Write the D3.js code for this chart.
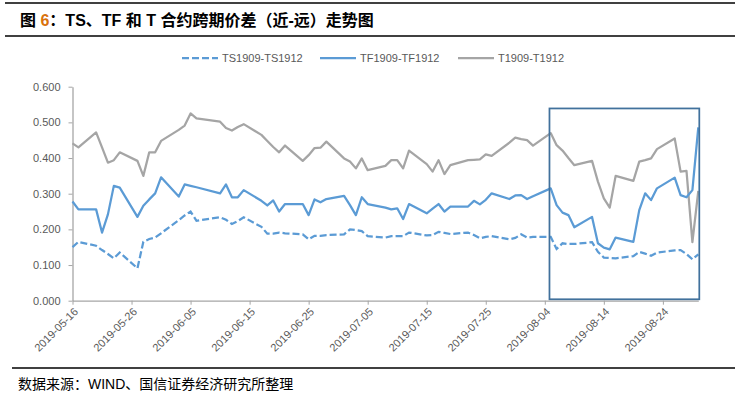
<!DOCTYPE html>
<html>
<head>
<meta charset="utf-8">
<script src="https://cdn.jsdelivr.net/npm/d3@7"></script>
<style>
  body { margin: 0; background: #fff; }
  svg { display: block; }
</style>
</head>
<body>
<div id="chart"></div>
<script>
// 交易日
const dates = [
  "2019-05-16","2019-05-17","2019-05-20","2019-05-21","2019-05-22","2019-05-23","2019-05-24",
  "2019-05-27","2019-05-28","2019-05-29","2019-05-30","2019-05-31",
  "2019-06-03","2019-06-04","2019-06-05","2019-06-06","2019-06-10","2019-06-11","2019-06-12",
  "2019-06-13","2019-06-14","2019-06-17","2019-06-18","2019-06-19","2019-06-20","2019-06-21",
  "2019-06-24","2019-06-25","2019-06-26","2019-06-27","2019-06-28",
  "2019-07-01","2019-07-02","2019-07-03","2019-07-04","2019-07-05","2019-07-08","2019-07-09",
  "2019-07-10","2019-07-11","2019-07-12","2019-07-15","2019-07-16","2019-07-17","2019-07-18",
  "2019-07-19","2019-07-22","2019-07-23","2019-07-24","2019-07-25","2019-07-26","2019-07-29",
  "2019-07-30","2019-07-31",
  "2019-08-01","2019-08-02","2019-08-05","2019-08-06","2019-08-07","2019-08-08","2019-08-09",
  "2019-08-12","2019-08-13","2019-08-14","2019-08-15","2019-08-16","2019-08-19","2019-08-20",
  "2019-08-21","2019-08-22","2019-08-23","2019-08-26","2019-08-27","2019-08-28","2019-08-29",
  "2019-08-30"
];

const tsSpread = [
  0.150, 0.165, 0.154, 0.142, 0.131, 0.119, 0.135, 0.091, 0.165, 0.173, 0.177, 0.189,
  0.226, 0.239, 0.250, 0.224, 0.234, 0.227, 0.215, 0.223, 0.234, 0.207, 0.188, 0.188, 0.191, 0.189,
  0.186, 0.172, 0.182, 0.182, 0.184,
  0.186, 0.200, 0.198, 0.195, 0.181, 0.177, 0.181, 0.181, 0.181, 0.191, 0.183, 0.184, 0.193, 0.190,
  0.187, 0.191, 0.184, 0.175, 0.179, 0.181, 0.172, 0.176, 0.186,
  0.177, 0.179, 0.179, 0.145, 0.161, 0.159, 0.159, 0.164, 0.137, 0.121, 0.120, 0.119, 0.125, 0.137,
  0.132, 0.126, 0.135, 0.141, 0.142, 0.131, 0.116, 0.130
];

const tfSpread = [
  0.278, 0.256, 0.256, 0.191, 0.242, 0.322, 0.317, 0.235, 0.266, 0.284, 0.301, 0.346,
  0.292, 0.326, 0.322, 0.318, 0.301, 0.326, 0.290, 0.290, 0.310, 0.280, 0.267, 0.281, 0.250, 0.271,
  0.271, 0.240, 0.284, 0.276, 0.285,
  0.294, 0.268, 0.240, 0.290, 0.271, 0.261, 0.256, 0.259, 0.229, 0.271, 0.245, 0.258, 0.271, 0.250,
  0.264, 0.264, 0.280, 0.270, 0.283, 0.301, 0.285, 0.295, 0.296,
  0.285, 0.293, 0.315, 0.268, 0.247, 0.240, 0.206, 0.235, 0.161, 0.149, 0.144, 0.177, 0.165, 0.254,
  0.301, 0.282, 0.315, 0.345, 0.296, 0.290, 0.310, 0.486
];

const tSpread = [
  0.441, 0.430, 0.472, 0.430, 0.387, 0.394, 0.416, 0.392, 0.350, 0.416, 0.416, 0.448,
  0.479, 0.491, 0.525, 0.511, 0.502, 0.484, 0.477, 0.487, 0.495, 0.465, 0.448, 0.431, 0.416, 0.435,
  0.392, 0.408, 0.428, 0.429, 0.446,
  0.399, 0.390, 0.371, 0.399, 0.366, 0.378, 0.394, 0.394, 0.371, 0.421, 0.383, 0.362, 0.394, 0.355,
  0.380, 0.394, 0.395, 0.396, 0.410, 0.406, 0.443, 0.457, 0.453,
  0.450, 0.435, 0.470, 0.436, 0.421, 0.400, 0.380, 0.392, 0.334, 0.287, 0.261, 0.350, 0.336, 0.390,
  0.394, 0.399, 0.425, 0.455, 0.362, 0.364, 0.164, 0.308
];

const seriesNames = ["TS1909-TS1912", "TF1909-TF1912", "T1909-T1912"];
const yTicks = [0, 0.1, 0.2, 0.3, 0.4, 0.5, 0.6];
const xTickDates = ["2019-05-16","2019-05-26","2019-06-05","2019-06-15","2019-06-25","2019-07-05",
  "2019-07-15","2019-07-25","2019-08-04","2019-08-14","2019-08-24"];

const W = 740, H = 396;
const latin = "'Liberation Sans', Arial, 'Noto Sans CJK SC', sans-serif";
const cjk = "'Liberation Sans', Arial, 'Noto Sans CJK SC', sans-serif";
const textColor = "#595959";
const blue = "#5b9bd5", gray = "#a5a5a5";

const parse = d3.timeParse("%Y-%m-%d");
const dd = dates.map(parse);

const svg = d3.select("#chart").append("svg")
  .attr("width", W).attr("height", H);

// 标题
svg.append("line").attr("x1", 5).attr("x2", 735).attr("y1", 3).attr("y2", 3)
  .attr("stroke", "#000").attr("stroke-width", 1.5);
svg.append("line").attr("x1", 5).attr("x2", 735).attr("y1", 36).attr("y2", 36)
  .attr("stroke", "#000").attr("stroke-width", 1.5);
const title = svg.append("text").attr("x", 20).attr("y", 26)
  .attr("font-family", cjk).attr("font-size", 16).attr("font-weight", "bold")
  .attr("fill", "#000");
title.append("tspan").text("图 ");
title.append("tspan").attr("fill", "#d9720c").text("6");
title.append("tspan").text("：TS、TF 和 T 合约跨期价差（近-远）走势图");

// 比例尺
const x = d3.scaleTime()
  .domain([parse("2019-05-16"), parse("2019-08-30")])
  .range([72.5, 698.3]);
const y = d3.scaleLinear().domain([0, 0.6]).range([300.7, 86.7]);

// 坐标轴
const yAxis = svg.append("g").attr("transform", `translate(${x.range()[0]},0)`)
  .call(d3.axisLeft(y).tickValues(yTicks).tickFormat(d3.format(".3f")).tickSize(4).tickPadding(8).tickSizeOuter(0));
const xAxis = svg.append("g").attr("transform", `translate(0,${y(0)})`)
  .call(d3.axisBottom(x).tickValues(xTickDates.map(parse)).tickFormat(d3.timeFormat("%Y-%m-%d")).tickSize(4).tickSizeOuter(0));

[yAxis, xAxis].forEach(g => {
  g.select(".domain").attr("stroke", "#a6a6a6").attr("stroke-width", 1.3);
  g.selectAll(".tick line").attr("stroke", "#a6a6a6");
  g.selectAll("text").attr("fill", textColor).attr("font-family", latin).attr("font-size", 11);
});
xAxis.selectAll(".tick text")
  .attr("text-anchor", "end")
  .attr("x", 0).attr("y", 0).attr("dy", "0.35em")
  .attr("transform", "translate(3,9) rotate(-45)");

// 折线
const line = d3.line().x((d, i) => x(dd[i])).y(d => y(d));

svg.append("path").datum(tSpread)
  .attr("fill", "none").attr("stroke", gray).attr("stroke-width", 2.25)
  .attr("stroke-linejoin", "round").attr("d", line);
svg.append("path").datum(tfSpread)
  .attr("fill", "none").attr("stroke", blue).attr("stroke-width", 2.25)
  .attr("stroke-linejoin", "round").attr("d", line);
svg.append("path").datum(tsSpread)
  .attr("fill", "none").attr("stroke", blue).attr("stroke-width", 2.25)
  .attr("stroke-dasharray", "7,3").attr("d", line);

// 标注框
const boxFrom = new Date(2019, 7, 4, 19);
svg.append("rect")
  .attr("x", x(boxFrom)).attr("y", y(0.539))
  .attr("width", x.range()[1] + 1 - x(boxFrom)).attr("height", y(0.004) - y(0.539))
  .attr("fill", "none").attr("stroke", "#41719c").attr("stroke-width", 1.75);

// 图例
const legend = [
  { name: seriesNames[0], color: blue, dash: "7,3", x: 182 },
  { name: seriesNames[1], color: blue, dash: null, x: 320 },
  { name: seriesNames[2], color: gray, dash: null, x: 458 }
];
const lg = svg.append("g");
legend.forEach(l => {
  lg.append("line").attr("x1", l.x).attr("x2", l.x + 36).attr("y1", 58).attr("y2", 58)
    .attr("stroke", l.color).attr("stroke-width", 2.25)
    .attr("stroke-dasharray", l.dash);
  lg.append("text").attr("x", l.x + 40).attr("y", 62)
    .attr("font-family", latin).attr("font-size", 11).attr("fill", textColor)
    .text(l.name);
});

// 数据来源
svg.append("line").attr("x1", 12).attr("x2", 735).attr("y1", 368).attr("y2", 368)
  .attr("stroke", "#000").attr("stroke-width", 1.3);
svg.append("text").attr("x", 18).attr("y", 389)
  .attr("font-family", cjk).attr("font-size", 14).attr("fill", "#000")
  .text("数据来源：WIND、国信证券经济研究所整理");
</script>
</body>
</html>
